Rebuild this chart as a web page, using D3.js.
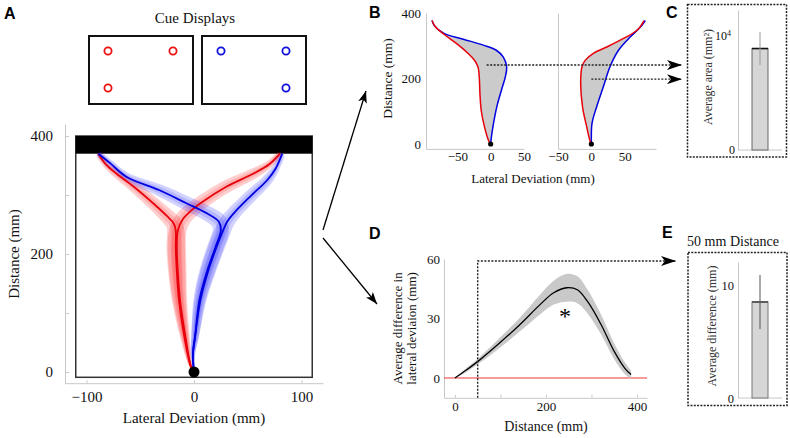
<!DOCTYPE html>
<html>
<head>
<meta charset="utf-8">
<script src="https://cdn.jsdelivr.net/npm/d3@7"></script>
<style>
    body { margin: 0; background: #fff; }
</style>
</head>
<body>
<svg id="fig" width="790" height="438"></svg>
<script>
// cue displays: target positions in a 2x2 grid [col, row]
var cueRed = [[0, 0], [1, 0], [0, 1]];
var cueBlue = [[0, 0], [1, 0], [1, 1]];

// panel A: mean hand paths, [lateral deviation mm, distance mm]
var redLeft = [[0,0],[-3,10],[-9,60],[-14,122],[-16,170],[-17,212],[-17,240],[-19,252],[-25,264],[-38,286],[-56,314],[-72,336],[-82,352],[-89,370]];
var redLeftSE = [0.5,1.5,4,6.5,8,8.5,8,7.5,7,6,5,4,3,2];
var redRight = [[0,0],[-3,10],[-8,60],[-13,122],[-15,170],[-16,212],[-15,240],[-10,260],[-3,273],[6,286],[30,314],[55,336],[70,352],[80,370]];
var redRightSE = [0.5,1.5,4,6.5,8,8.5,8,7.5,7,6.5,6,5,3.5,2];
var blueLeft = [[0,0],[-1,30],[1,60],[5,122],[12,170],[20,212],[25,240],[23,255],[12,269],[-7,286],[-32,308],[-63,331],[-78,354],[-89,370]];
var blueLeftSE = [0.5,2,3.5,5.5,7,7.5,7.5,7.5,7,6.5,5.5,4,3,2];
var blueRight = [[0,0],[-1,30],[1,60],[6,122],[13,170],[21,212],[26,235],[31,255],[37,269],[52,297],[68,325],[76,345],[82,370]];
var blueRightSE = [0.5,2,3.5,5.5,7,7.5,7.5,7,6.5,6,5,3.5,2];

// panel B: left-target paths (left plot) and right-target paths (right plot)
var redB1 = [[0,0],[-3,10],[-9,50],[-14,100],[-16,150],[-17,200],[-19,235],[-24,255],[-33,275],[-50,305],[-70,335],[-83,358],[-88,377]];
var blueB1 = [[0,0],[1,20],[4,60],[10,120],[17,170],[22,205],[24,235],[19,265],[8,287],[-11,302],[-41,320],[-70,338],[-84,360],[-88,377]];
var redB2 = [[0,0],[-2,10],[-7,53],[-13,110],[-16,185],[-14,236],[-9,256],[3,277],[24,297],[49,323],[69,348],[79,377]];
var blueB2 = [[0,0],[0,20],[1,63],[8,114],[18,175],[28,236],[41,287],[59,328],[74,358],[81,377]];

// panel C: average area between paths
var areaMean = 8900, areaErr = 1450;

// panel D: average difference in lateral deviation along distance
var distD = [0, 25, 54, 98, 143, 187, 217, 246, 269, 291, 321, 350, 373, 387];
var meanD = [0, 4, 9, 17.6, 27, 37, 43, 45.5, 44.5, 38.7, 27, 13.4, 5, 1.7];
var seD = [0, 1, 1.5, 2.5, 3.5, 5, 6, 7, 6.8, 6, 5, 4, 3, 2];

// panel E: difference at 50 mm distance
var diff50Mean = 8.5, diff50Err = 2.4;

var serif = "'Liberation Serif', 'Times New Roman', 'DejaVu Serif', serif";
var sans = "'Liberation Sans', Arial, sans-serif";

var svg = d3.select("#fig").attr("font-family", serif);
var catmull = d3.line().curve(d3.curveCatmullRom);
var axisGrey = "#c8c8c8";

var defs = svg.append("defs");
defs.append("marker").attr("id", "bigHead")
    .attr("viewBox", "0 0 15 10").attr("refX", 15).attr("refY", 5)
    .attr("markerWidth", 15).attr("markerHeight", 10)
    .attr("markerUnits", "userSpaceOnUse").attr("orient", "auto")
    .append("path").attr("d", "M0,0L15,5L0,10L4,5Z").attr("fill", "#000");
defs.append("marker").attr("id", "smallHead")
    .attr("viewBox", "0 0 12 9").attr("refX", 12).attr("refY", 4.5)
    .attr("markerWidth", 12).attr("markerHeight", 9)
    .attr("markerUnits", "userSpaceOnUse").attr("orient", "auto")
    .append("path").attr("d", "M0,0L12,4.5L0,9L3,4.5Z").attr("fill", "#000");

function styleAxis(g, size) {
    g.attr("font-family", serif).attr("font-size", size);
    g.select(".domain").attr("stroke", axisGrey);
    g.selectAll(".tick line").attr("stroke", axisGrey);
    g.selectAll(".tick text").attr("fill", "#111").style("font-family", serif);
}

function label(x, y, t, size, rot) {
    var el = svg.append("text").attr("text-anchor", "middle").attr("font-size", size)
        .attr("fill", "#111").style("font-family", serif).text(t);
    if (rot) el.attr("transform", "translate(" + x + "," + y + ") rotate(-90)");
    else el.attr("x", x).attr("y", y);
    return el;
}

function band(pts, se, x, y) {
    var k = x(1) - x(0);
    var p = pts.map(function (d) { return [x(d[0]), y(d[1])]; });
    var up = [], lo = [];
    p.forEach(function (d, i) {
        var a = p[Math.max(i - 1, 0)], b = p[Math.min(i + 1, p.length - 1)];
        var tx = b[0] - a[0], ty = b[1] - a[1], l = Math.sqrt(tx * tx + ty * ty);
        var w = se[i] * k;
        up.push([d[0] - ty / l * w, d[1] + tx / l * w]);
        lo.push([d[0] + ty / l * w, d[1] - tx / l * w]);
    });
    return catmull(up.concat(lo.reverse())) + "Z";
}

function panelLetter(t, x, y) {
    svg.append("text").attr("x", x).attr("y", y).attr("font-size", 16).attr("font-weight", "bold")
        .style("font-family", sans).text(t);
}

/* ---------------- panel A ---------------- */
panelLetter("A", 4, 19);
label(195, 23, "Cue Displays", 15);

[[89, cueRed, "#e11"], [202, cueBlue, "#11d"]].forEach(function (c) {
    svg.append("rect").attr("x", c[0]).attr("y", 36).attr("width", 104).attr("height", 68)
        .attr("fill", "none").attr("stroke", "#111").attr("stroke-width", 2);
    svg.selectAll(null).data(c[1]).enter().append("circle")
        .attr("cx", function (d) { return c[0] + 19 + d[0] * 65; })
        .attr("cy", function (d) { return 51 + d[1] * 37; })
        .attr("r", 3.6).attr("fill", "none").attr("stroke", c[2]).attr("stroke-width", 1.8);
});

var xA = d3.scaleLinear().domain([-120, 120]).range([65, 323]);
var yA = d3.scaleLinear().domain([-19, 420]).range([383.2, 124.2]);

var gAx = svg.append("g").attr("transform", "translate(0," + yA(-19) + ")")
    .call(d3.axisBottom(xA).tickValues([-100, 0, 100]).tickSizeInner(-3).tickSizeOuter(0).tickPadding(8));
styleAxis(gAx, 15);
var gAy = svg.append("g").attr("transform", "translate(" + xA(-120) + ",0)")
    .call(d3.axisLeft(yA).tickValues([0, 100, 200, 300, 400]).tickSizeInner(-4).tickSizeOuter(0).tickPadding(12)
        .tickFormat(function (d) { return d % 200 === 0 ? d : ""; }));
styleAxis(gAy, 15);

svg.append("rect").attr("x", xA(-110)).attr("y", yA(400))
    .attr("width", xA(110) - xA(-110)).attr("height", yA(-9) - yA(400))
    .attr("fill", "#fff").attr("stroke", "#333").attr("stroke-width", 1.5);
svg.append("rect").attr("x", xA(-110)).attr("y", yA(400))
    .attr("width", xA(110) - xA(-110)).attr("height", yA(370) - yA(400)).attr("fill", "#000");

var trajA = [
    [redLeft, redLeftSE, "#ff1010", "#e8000b"],
    [redRight, redRightSE, "#ff1010", "#e8000b"],
    [blueLeft, blueLeftSE, "#2020ff", "#0000e0"],
    [blueRight, blueRightSE, "#2020ff", "#0000e0"]
];
trajA.forEach(function (t) {
    svg.append("path").attr("d", band(t[0], t[1], xA, yA)).attr("fill", t[2]).attr("opacity", 0.2);
    var inner = t[1].map(function (v) { return v * 0.55; });
    svg.append("path").attr("d", band(t[0], inner, xA, yA)).attr("fill", t[2]).attr("opacity", 0.15);
});
trajA.forEach(function (t) {
    svg.append("path").attr("d", catmull(t[0].map(function (d) { return [xA(d[0]), yA(d[1])]; })))
        .attr("fill", "none").attr("stroke", t[3]).attr("stroke-width", 1.8);
});
svg.append("circle").attr("cx", xA(0)).attr("cy", yA(0)).attr("r", 5.5).attr("fill", "#000");

label(19, yA(200), "Distance (mm)", 15, true);
label(xA(0), 423, "Lateral Deviation (mm)", 15);

// arrows from A to B and D
svg.append("line").attr("x1", 323).attr("y1", 230).attr("x2", 366).attr("y2", 91)
    .attr("stroke", "#000").attr("stroke-width", 1.3).attr("marker-end", "url(#smallHead)");
svg.append("line").attr("x1", 323).attr("y1", 238).attr("x2", 377).attr("y2", 304)
    .attr("stroke", "#000").attr("stroke-width", 1.3).attr("marker-end", "url(#smallHead)");

/* ---------------- panel B ---------------- */
panelLetter("B", 369, 18);
var yB = d3.scaleLinear().domain([-15, 400]).range([148.9, 13]);
var xB1 = d3.scaleLinear().domain([-97, 50]).range([426, 524]);
var xB2 = d3.scaleLinear().domain([-50, 97]).range([558, 656]);

var gBy = svg.append("g").attr("transform", "translate(426,0)")
    .call(d3.axisLeft(yB).tickValues([0, 200, 400]).tickSizeInner(0).tickSizeOuter(0).tickPadding(5));
styleAxis(gBy, 13);
var gBy2 = svg.append("g").attr("transform", "translate(558,0)")
    .call(d3.axisLeft(yB).tickValues([]).tickSizeOuter(0));
styleAxis(gBy2, 13);
[xB1, xB2].forEach(function (x) {
    var g = svg.append("g").attr("transform", "translate(0," + yB(-15) + ")")
        .call(d3.axisBottom(x).tickValues([-50, 0, 50]).tickSizeInner(0).tickSizeOuter(0).tickPadding(3));
    styleAxis(g, 13);
});

[[redB1, blueB1, xB1], [redB2, blueB2, xB2]].forEach(function (s) {
    var x = s[2];
    var r = s[0].map(function (d) { return [x(d[0]), yB(d[1])]; });
    var b = s[1].map(function (d) { return [x(d[0]), yB(d[1])]; });
    svg.append("path").attr("d", catmull(r) + "L" + catmull(b.slice().reverse()).slice(1) + "Z")
        .attr("fill", "#cbcbcb");
    svg.append("path").attr("d", catmull(b)).attr("fill", "none").attr("stroke", "#0000e0").attr("stroke-width", 1.5);
    svg.append("path").attr("d", catmull(r)).attr("fill", "none").attr("stroke", "#e8000b").attr("stroke-width", 1.5);
    svg.append("circle").attr("cx", x(0)).attr("cy", yB(0)).attr("r", 2.6).attr("fill", "#000");
});

label(392, yB(200), "Distance (mm)", 13.5, true);
label(533, 183, "Lateral Deviation (mm)", 13);

// dotted links from B to C
svg.append("path").attr("d", "M" + xB1(-6) + "," + yB(241) + "H682")
    .attr("fill", "none").attr("stroke", "#222").attr("stroke-width", 1.4)
    .attr("stroke-dasharray", "2,1.5").attr("marker-end", "url(#bigHead)");
svg.append("path").attr("d", "M" + xB2(0) + "," + yB(198) + "H682")
    .attr("fill", "none").attr("stroke", "#222").attr("stroke-width", 1.4)
    .attr("stroke-dasharray", "2,1.5").attr("marker-end", "url(#bigHead)");

/* ---------------- panel C ---------------- */
panelLetter("C", 666, 18);
svg.append("rect").attr("x", 687.5).attr("y", 4.5).attr("width", 99).attr("height", 152.5)
    .attr("fill", "none").attr("stroke", "#222").attr("stroke-width", 1.5).attr("stroke-dasharray", "2,1.3");

var yC = d3.scaleLinear().domain([0, 12280]).range([150, 10]);
var xC = d3.scaleBand().domain(["area"]).range([738, 782]).padding(0.467);

var gCy = svg.append("g").attr("transform", "translate(738,0)")
    .call(d3.axisLeft(yC).tickValues([0, 10000]).tickSizeInner(0).tickSizeOuter(0).tickPadding(3)
        .tickFormat(function (d) { return d ? "10" : "0"; }));
styleAxis(gCy, 12);
gCy.selectAll(".tick text").filter(function (d) { return d === 10000; })
    .attr("dx", "-4").append("tspan").attr("dy", "-0.5em").attr("font-size", 8).text("4");
svg.append("line").attr("x1", 738).attr("x2", 782).attr("y1", yC(0)).attr("y2", yC(0)).attr("stroke", axisGrey);

svg.append("rect").attr("x", xC("area")).attr("y", yC(areaMean))
    .attr("width", xC.bandwidth()).attr("height", yC(0) - yC(areaMean))
    .attr("fill", "#d6d6d6").attr("stroke", "#666").attr("stroke-width", 1);
svg.append("line").attr("x1", xC("area")).attr("x2", xC("area") + xC.bandwidth())
    .attr("y1", yC(areaMean)).attr("y2", yC(areaMean)).attr("stroke", "#111").attr("stroke-width", 1.6);
svg.append("line").attr("x1", xC("area") + xC.bandwidth() / 2).attr("x2", xC("area") + xC.bandwidth() / 2)
    .attr("y1", yC(areaMean + areaErr)).attr("y2", yC(areaMean - areaErr)).attr("stroke", "#999").attr("stroke-width", 1);
label(712, 77, "Average area (mm²)", 12, true).attr("fill", "#333");

/* ---------------- panel D ---------------- */
panelLetter("D", 369, 239);
var xD = d3.scaleLinear().domain([-24, 422]).range([444, 647]);
var yD = d3.scaleLinear().domain([-10, 60]).range([397.8, 259]);

var gDx = svg.append("g").attr("transform", "translate(0," + yD(-10) + ")")
    .call(d3.axisBottom(xD).tickValues([0, 100, 200, 300, 400]).tickSizeInner(-3).tickSizeOuter(0).tickPadding(4)
        .tickFormat(function (d) { return d % 200 === 0 ? d : ""; }));
styleAxis(gDx, 13);
var gDy = svg.append("g").attr("transform", "translate(" + xD(-24) + ",0)")
    .call(d3.axisLeft(yD).tickValues([0, 30, 60]).tickSizeInner(0).tickSizeOuter(0).tickPadding(4));
styleAxis(gDy, 13);

svg.append("line").attr("x1", xD(-24)).attr("x2", xD(422)).attr("y1", yD(0)).attr("y2", yD(0))
    .attr("stroke", "#e33").attr("stroke-width", 1);

var diffPts = distD.map(function (d, i) { return {x: d, m: meanD[i], s: seD[i]}; });
svg.append("path").datum(diffPts)
    .attr("d", d3.area().curve(d3.curveCatmullRom)
        .x(function (d) { return xD(d.x); })
        .y0(function (d) { return yD(d.m - d.s); })
        .y1(function (d) { return yD(d.m + d.s); }))
    .attr("fill", "#c9c9c9");
svg.append("path").datum(diffPts)
    .attr("d", d3.line().curve(d3.curveCatmullRom)
        .x(function (d) { return xD(d.x); })
        .y(function (d) { return yD(d.m); }))
    .attr("fill", "none").attr("stroke", "#000").attr("stroke-width", 1.3);

label(xD(242), yD(33) + 11, "*", 24).attr("fill", "#000");

label(402, yD(25), "Average difference in", 13, true);
label(416, yD(25), "lateral deviaion (mm)", 13, true);
label(xD(200), 431, "Distance (mm)", 14);

// dotted link from D (50 mm) to E
svg.append("path").attr("d", "M" + xD(50) + "," + yD(-10) + "V" + yD(59) + "H676")
    .attr("fill", "none").attr("stroke", "#222").attr("stroke-width", 1.4)
    .attr("stroke-dasharray", "2,1.5").attr("marker-end", "url(#bigHead)");

/* ---------------- panel E ---------------- */
panelLetter("E", 662, 238);
label(733, 246, "50 mm Distance", 14);
svg.append("rect").attr("x", 688).attr("y", 252.5).attr("width", 99).attr("height", 153)
    .attr("fill", "none").attr("stroke", "#222").attr("stroke-width", 1.5).attr("stroke-dasharray", "2,1.3");

var yE = d3.scaleLinear().domain([0, 12.04]).range([398, 262]);
var xE = d3.scaleBand().domain(["50"]).range([738, 782]).padding(0.467);
var gEy = svg.append("g").attr("transform", "translate(738,0)")
    .call(d3.axisLeft(yE).tickValues([0, 10]).tickSizeInner(0).tickSizeOuter(0).tickPadding(4));
styleAxis(gEy, 12.5);
svg.append("line").attr("x1", 738).attr("x2", 782).attr("y1", yE(0)).attr("y2", yE(0)).attr("stroke", axisGrey);

svg.append("rect").attr("x", xE("50")).attr("y", yE(diff50Mean))
    .attr("width", xE.bandwidth()).attr("height", yE(0) - yE(diff50Mean))
    .attr("fill", "#d6d6d6").attr("stroke", "#777").attr("stroke-width", 1);
svg.append("line").attr("x1", xE("50")).attr("x2", xE("50") + xE.bandwidth())
    .attr("y1", yE(diff50Mean)).attr("y2", yE(diff50Mean)).attr("stroke", "#555").attr("stroke-width", 1.8);
svg.append("line").attr("x1", xE("50") + xE.bandwidth() / 2).attr("x2", xE("50") + xE.bandwidth() / 2)
    .attr("y1", yE(diff50Mean + diff50Err)).attr("y2", yE(diff50Mean - diff50Err)).attr("stroke", "#555").attr("stroke-width", 1);
label(716, 326, "Average difference (mm)", 12, true).attr("fill", "#333");
</script>
</body>
</html>
